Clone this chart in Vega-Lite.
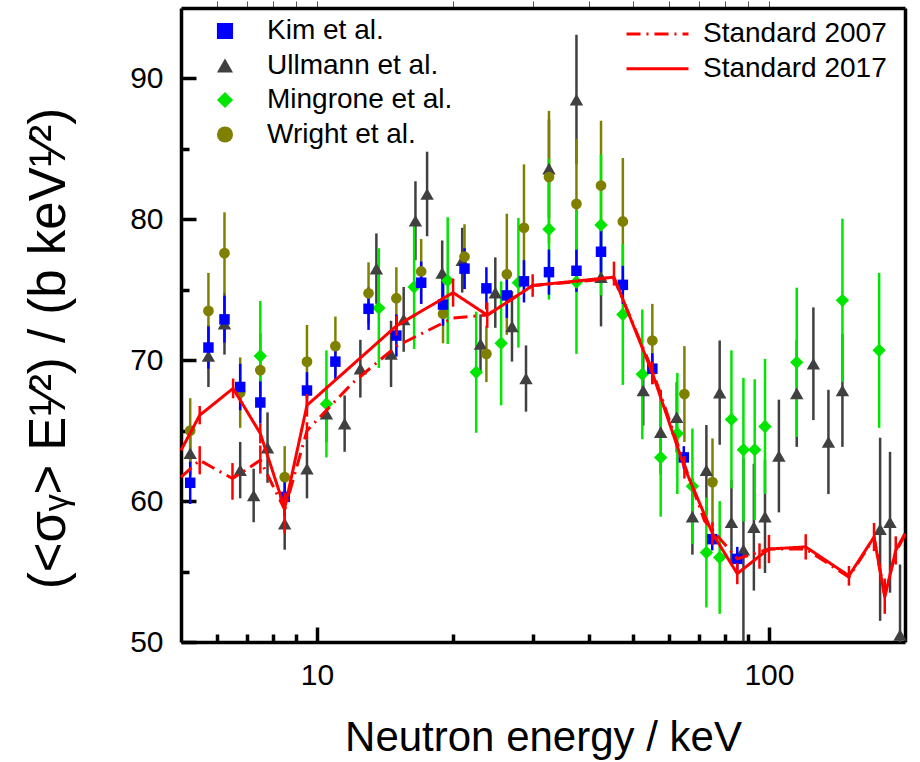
{
"$schema":"https://vega.github.io/schema/vega-lite/v6.json",
"width":724,"height":634,
"autosize":{"type":"none"},
"padding":{"left":181,"top":8,"right":15,"bottom":120},
"config":{
 "font":"Liberation Sans",
 "view":{"stroke":null},
 "axis":{"grid":false,"domainColor":"#000000","domainWidth":3.5,"tickColor":"#000000","tickWidth":3.5,"labelColor":"#000000","titleColor":"#000000","titleFontWeight":"normal","labelFont":"Liberation Sans","titleFont":"Liberation Sans"},
 "legend":{"labelFont":"Liberation Sans","labelColor":"#000000","labelFontSize":28,"padding":0,"labelLimit":400}
},
"datasets":{
 "meas":[
  {"s":"Ullmann et al.","E":5.24,"v":63.4,"lo":61.8,"hi":65.0},
  {"s":"Ullmann et al.","E":5.75,"v":70.3,"lo":68.1,"hi":72.5},
  {"s":"Ullmann et al.","E":6.24,"v":72.6,"lo":70.4,"hi":74.8},
  {"s":"Ullmann et al.","E":6.76,"v":62.2,"lo":60.2,"hi":64.2},
  {"s":"Ullmann et al.","E":7.24,"v":60.4,"lo":58.5,"hi":62.3},
  {"s":"Ullmann et al.","E":7.77,"v":63.8,"lo":61.3,"hi":66.3},
  {"s":"Ullmann et al.","E":8.48,"v":58.4,"lo":56.55,"hi":60.25},
  {"s":"Ullmann et al.","E":9.5,"v":62.3,"lo":60.2,"hi":64.4},
  {"s":"Ullmann et al.","E":10.49,"v":66.2,"lo":64.2,"hi":68.2},
  {"s":"Ullmann et al.","E":11.51,"v":65.5,"lo":63.5,"hi":67.5},
  {"s":"Ullmann et al.","E":12.47,"v":69.4,"lo":67.35,"hi":71.45},
  {"s":"Ullmann et al.","E":13.53,"v":76.5,"lo":74.0,"hi":79.0},
  {"s":"Ullmann et al.","E":14.58,"v":70.45,"lo":68.1,"hi":72.8},
  {"s":"Ullmann et al.","E":15.55,"v":72.9,"lo":70.6,"hi":75.2},
  {"s":"Ullmann et al.","E":16.51,"v":79.9,"lo":77.1,"hi":82.7},
  {"s":"Ullmann et al.","E":17.52,"v":81.8,"lo":78.8,"hi":84.8},
  {"s":"Ullmann et al.","E":18.92,"v":76.2,"lo":73.9,"hi":78.5},
  {"s":"Ullmann et al.","E":20.95,"v":77.1,"lo":74.8,"hi":79.4},
  {"s":"Ullmann et al.","E":23.0,"v":71.15,"lo":69.05,"hi":73.25},
  {"s":"Ullmann et al.","E":24.8,"v":74.8,"lo":72.3,"hi":77.3},
  {"s":"Ullmann et al.","E":27.0,"v":72.4,"lo":69.9,"hi":74.9},
  {"s":"Ullmann et al.","E":29.0,"v":68.7,"lo":66.35,"hi":71.05},
  {"s":"Ullmann et al.","E":32.6,"v":83.6,"lo":80.1,"hi":87.1},
  {"s":"Ullmann et al.","E":37.5,"v":88.5,"lo":83.9,"hi":93.1},
  {"s":"Ullmann et al.","E":42.5,"v":75.9,"lo":72.4,"hi":79.4},
  {"s":"Ullmann et al.","E":52.7,"v":67.85,"lo":65.35,"hi":70.35},
  {"s":"Ullmann et al.","E":57.6,"v":64.9,"lo":61.9,"hi":67.9},
  {"s":"Ullmann et al.","E":62.5,"v":65.95,"lo":63.45,"hi":68.45},
  {"s":"Ullmann et al.","E":67.7,"v":58.9,"lo":56.2,"hi":61.6},
  {"s":"Ullmann et al.","E":72.7,"v":62.2,"lo":59.0,"hi":65.4},
  {"s":"Ullmann et al.","E":77.8,"v":67.7,"lo":64.0,"hi":71.4},
  {"s":"Ullmann et al.","E":82.6,"v":58.5,"lo":55.5,"hi":61.5},
  {"s":"Ullmann et al.","E":87.8,"v":56.55,"lo":50.05,"hi":63.05},
  {"s":"Ullmann et al.","E":92.6,"v":58.15,"lo":53.65,"hi":62.65},
  {"s":"Ullmann et al.","E":98.0,"v":58.9,"lo":54.9,"hi":62.9},
  {"s":"Ullmann et al.","E":105.2,"v":63.2,"lo":59.2,"hi":67.2},
  {"s":"Ullmann et al.","E":115.2,"v":67.65,"lo":63.85,"hi":71.45},
  {"s":"Ullmann et al.","E":125.4,"v":69.75,"lo":65.75,"hi":73.75},
  {"s":"Ullmann et al.","E":135.4,"v":64.2,"lo":60.5,"hi":67.9},
  {"s":"Ullmann et al.","E":145.4,"v":67.85,"lo":63.85,"hi":71.85},
  {"s":"Ullmann et al.","E":176.2,"v":58.0,"lo":51.5,"hi":64.5},
  {"s":"Ullmann et al.","E":185.3,"v":58.5,"lo":53.5,"hi":63.5},
  {"s":"Ullmann et al.","E":195.0,"v":50.5,"lo":45.5,"hi":55.5},
  {"s":"Wright et al.","E":5.24,"v":65.0,"lo":62.7,"hi":67.3},
  {"s":"Wright et al.","E":5.75,"v":73.5,"lo":70.8,"hi":76.2},
  {"s":"Wright et al.","E":6.24,"v":77.6,"lo":74.7,"hi":80.5},
  {"s":"Wright et al.","E":6.76,"v":67.7,"lo":65.2,"hi":70.2},
  {"s":"Wright et al.","E":7.49,"v":69.3,"lo":66.7,"hi":71.9},
  {"s":"Wright et al.","E":8.48,"v":61.7,"lo":59.5,"hi":63.9},
  {"s":"Wright et al.","E":9.5,"v":69.9,"lo":67.3,"hi":72.5},
  {"s":"Wright et al.","E":10.98,"v":71.0,"lo":68.9,"hi":73.1},
  {"s":"Wright et al.","E":13.0,"v":74.75,"lo":72.55,"hi":76.95},
  {"s":"Wright et al.","E":14.98,"v":74.4,"lo":72.2,"hi":76.6},
  {"s":"Wright et al.","E":17.0,"v":76.3,"lo":74.0,"hi":78.6},
  {"s":"Wright et al.","E":19.0,"v":73.3,"lo":71.2,"hi":75.4},
  {"s":"Wright et al.","E":21.2,"v":77.35,"lo":75.05,"hi":79.65},
  {"s":"Wright et al.","E":23.7,"v":70.45,"lo":68.45,"hi":72.45},
  {"s":"Wright et al.","E":26.3,"v":76.1,"lo":71.8,"hi":80.4},
  {"s":"Wright et al.","E":28.7,"v":79.4,"lo":74.9,"hi":83.9},
  {"s":"Wright et al.","E":32.6,"v":83.0,"lo":78.3,"hi":87.7},
  {"s":"Wright et al.","E":37.5,"v":81.1,"lo":76.5,"hi":85.7},
  {"s":"Wright et al.","E":42.5,"v":82.4,"lo":77.8,"hi":87.0},
  {"s":"Wright et al.","E":47.5,"v":79.85,"lo":75.35,"hi":84.35},
  {"s":"Wright et al.","E":55.2,"v":71.4,"lo":68.8,"hi":74.0},
  {"s":"Wright et al.","E":65.0,"v":67.6,"lo":64.2,"hi":71.0},
  {"s":"Wright et al.","E":75.0,"v":61.35,"lo":58.25,"hi":64.45},
  {"s":"Mingrone et al.","E":7.49,"v":70.3,"lo":66.4,"hi":74.2},
  {"s":"Mingrone et al.","E":10.49,"v":66.9,"lo":63.1,"hi":70.7},
  {"s":"Mingrone et al.","E":13.7,"v":73.7,"lo":69.45,"hi":77.95},
  {"s":"Mingrone et al.","E":16.4,"v":75.2,"lo":70.8,"hi":79.6},
  {"s":"Mingrone et al.","E":19.46,"v":75.65,"lo":71.15,"hi":80.15},
  {"s":"Mingrone et al.","E":22.5,"v":69.15,"lo":64.85,"hi":73.45},
  {"s":"Mingrone et al.","E":25.55,"v":71.2,"lo":66.8,"hi":75.6},
  {"s":"Mingrone et al.","E":27.9,"v":75.5,"lo":70.9,"hi":80.1},
  {"s":"Mingrone et al.","E":32.6,"v":79.3,"lo":74.3,"hi":84.3},
  {"s":"Mingrone et al.","E":37.5,"v":75.55,"lo":70.45,"hi":80.65},
  {"s":"Mingrone et al.","E":42.5,"v":79.6,"lo":74.6,"hi":84.6},
  {"s":"Mingrone et al.","E":47.5,"v":73.25,"lo":68.25,"hi":78.25},
  {"s":"Mingrone et al.","E":52.45,"v":69.0,"lo":64.4,"hi":73.6},
  {"s":"Mingrone et al.","E":57.6,"v":63.1,"lo":58.9,"hi":67.3},
  {"s":"Mingrone et al.","E":62.7,"v":64.8,"lo":60.5,"hi":69.1},
  {"s":"Mingrone et al.","E":67.7,"v":61.05,"lo":56.95,"hi":65.15},
  {"s":"Mingrone et al.","E":72.7,"v":56.35,"lo":52.45,"hi":60.25},
  {"s":"Mingrone et al.","E":77.8,"v":56.0,"lo":52.0,"hi":60.0},
  {"s":"Mingrone et al.","E":82.6,"v":65.8,"lo":60.9,"hi":70.7},
  {"s":"Mingrone et al.","E":87.8,"v":63.65,"lo":58.55,"hi":68.75},
  {"s":"Mingrone et al.","E":93.0,"v":63.65,"lo":58.65,"hi":68.65},
  {"s":"Mingrone et al.","E":98.0,"v":65.3,"lo":60.5,"hi":70.1},
  {"s":"Mingrone et al.","E":115.2,"v":69.85,"lo":64.55,"hi":75.15},
  {"s":"Mingrone et al.","E":145.4,"v":74.25,"lo":68.45,"hi":80.05},
  {"s":"Mingrone et al.","E":175.3,"v":70.7,"lo":65.2,"hi":76.2},
  {"s":"Kim et al.","E":5.24,"v":61.3,"lo":59.8,"hi":62.8},
  {"s":"Kim et al.","E":5.75,"v":70.9,"lo":69.4,"hi":72.4},
  {"s":"Kim et al.","E":6.24,"v":72.9,"lo":71.25,"hi":74.55},
  {"s":"Kim et al.","E":6.76,"v":68.1,"lo":66.45,"hi":69.75},
  {"s":"Kim et al.","E":7.49,"v":67.0,"lo":65.5,"hi":68.5},
  {"s":"Kim et al.","E":8.48,"v":60.3,"lo":58.95,"hi":61.65},
  {"s":"Kim et al.","E":9.5,"v":67.85,"lo":66.55,"hi":69.15},
  {"s":"Kim et al.","E":10.98,"v":69.9,"lo":68.65,"hi":71.15},
  {"s":"Kim et al.","E":13.0,"v":73.65,"lo":72.15,"hi":75.15},
  {"s":"Kim et al.","E":14.98,"v":71.75,"lo":70.25,"hi":73.25},
  {"s":"Kim et al.","E":17.0,"v":75.5,"lo":74.0,"hi":77.0},
  {"s":"Kim et al.","E":19.0,"v":73.95,"lo":72.45,"hi":75.45},
  {"s":"Kim et al.","E":21.2,"v":76.5,"lo":75.05,"hi":77.95},
  {"s":"Kim et al.","E":23.7,"v":75.1,"lo":73.6,"hi":76.6},
  {"s":"Kim et al.","E":26.3,"v":74.6,"lo":73.0,"hi":76.2},
  {"s":"Kim et al.","E":28.7,"v":75.6,"lo":74.1,"hi":77.1},
  {"s":"Kim et al.","E":32.6,"v":76.25,"lo":74.65,"hi":77.85},
  {"s":"Kim et al.","E":37.5,"v":76.35,"lo":74.85,"hi":77.85},
  {"s":"Kim et al.","E":42.5,"v":77.7,"lo":76.2,"hi":79.2},
  {"s":"Kim et al.","E":47.5,"v":75.35,"lo":74.0,"hi":76.7},
  {"s":"Kim et al.","E":55.2,"v":69.4,"lo":68.3,"hi":70.5},
  {"s":"Kim et al.","E":64.8,"v":63.1,"lo":62.3,"hi":63.9},
  {"s":"Kim et al.","E":74.9,"v":57.3,"lo":56.5,"hi":58.1},
  {"s":"Kim et al.","E":85.1,"v":55.9,"lo":55.05,"hi":56.75}
 ],
 "std":[
  {"std":"Standard 2007","E":5.0,"v":61.7},
  {"std":"Standard 2007","E":5.5,"v":62.9,"lo":61.9,"hi":63.9},
  {"std":"Standard 2007","E":6.5,"v":61.6,"lo":60.1,"hi":62.7},
  {"std":"Standard 2007","E":7.49,"v":62.9,"lo":61.95,"hi":63.95},
  {"std":"Standard 2007","E":8.48,"v":59.4},
  {"std":"Standard 2007","E":9.5,"v":65.0,"lo":64.4,"hi":65.6},
  {"std":"Standard 2007","E":12.0,"v":68.4},
  {"std":"Standard 2007","E":15.0,"v":71.0},
  {"std":"Standard 2007","E":20.0,"v":73.0},
  {"std":"Standard 2007","E":23.8,"v":73.2},
  {"std":"Standard 2007","E":30.0,"v":75.3},
  {"std":"Standard 2007","E":45.4,"v":75.8},
  {"std":"Standard 2007","E":55.2,"v":69.3},
  {"std":"Standard 2007","E":65.0,"v":62.6},
  {"std":"Standard 2007","E":72.0,"v":58.6},
  {"std":"Standard 2007","E":80.0,"v":56.9},
  {"std":"Standard 2007","E":85.1,"v":55.9},
  {"std":"Standard 2007","E":100.0,"v":56.6},
  {"std":"Standard 2007","E":120.6,"v":56.6},
  {"std":"Standard 2007","E":150.3,"v":54.6},
  {"std":"Standard 2007","E":170.8,"v":57.4},
  {"std":"Standard 2007","E":180.4,"v":53.3},
  {"std":"Standard 2007","E":190.8,"v":56.4},
  {"std":"Standard 2007","E":200.0,"v":57.6},
  {"std":"Standard 2017","E":5.0,"v":63.6},
  {"std":"Standard 2017","E":5.5,"v":66.1,"lo":65.45,"hi":66.75},
  {"std":"Standard 2017","E":6.52,"v":68.0,"lo":67.3,"hi":68.7},
  {"std":"Standard 2017","E":7.49,"v":64.8,"lo":64.1,"hi":65.5},
  {"std":"Standard 2017","E":8.48,"v":59.5,"lo":57.7,"hi":60.6},
  {"std":"Standard 2017","E":9.5,"v":66.8,"lo":66.0,"hi":67.6},
  {"std":"Standard 2017","E":15.0,"v":72.45,"lo":71.75,"hi":73.15},
  {"std":"Standard 2017","E":20.0,"v":74.8,"lo":73.8,"hi":75.8},
  {"std":"Standard 2017","E":23.8,"v":73.2,"lo":72.3,"hi":74.1},
  {"std":"Standard 2017","E":30.0,"v":75.3,"lo":74.5,"hi":76.1},
  {"std":"Standard 2017","E":45.4,"v":75.9,"lo":75.3,"hi":77.0},
  {"std":"Standard 2017","E":55.2,"v":69.1,"lo":68.3,"hi":69.9},
  {"std":"Standard 2017","E":65.0,"v":62.4,"lo":61.6,"hi":63.2},
  {"std":"Standard 2017","E":75.0,"v":57.7,"lo":56.9,"hi":58.5},
  {"std":"Standard 2017","E":85.1,"v":54.85,"lo":54.1,"hi":55.6},
  {"std":"Standard 2017","E":95.3,"v":56.1,"lo":55.2,"hi":57.0},
  {"std":"Standard 2017","E":100.0,"v":56.6,"lo":55.6,"hi":57.6},
  {"std":"Standard 2017","E":120.6,"v":56.75,"lo":55.85,"hi":57.65},
  {"std":"Standard 2017","E":150.3,"v":54.7,"lo":54.0,"hi":55.4},
  {"std":"Standard 2017","E":170.8,"v":57.45,"lo":56.45,"hi":58.45},
  {"std":"Standard 2017","E":180.4,"v":53.2,"lo":52.0,"hi":54.5},
  {"std":"Standard 2017","E":190.8,"v":56.5,"lo":55.5,"hi":57.5},
  {"std":"Standard 2017","E":200.0,"v":57.7}
 ]
},
"layer":[
 {
  "data":{"name":"meas"},
  "mark":{"type":"rule","strokeWidth":2.5,"clip":true},
  "encoding":{
   "x":{"field":"E","type":"quantitative","scale":{"type":"log","domain":[5,200],"nice":false},
        "axis":{"orient":"bottom","values":[10,100],"format":"d","tickSize":-15,"labelFontSize":30,"labelPadding":33,"title":"Neutron energy / keV","titleFontSize":42,"titlePadding":27}},
   "y":{"field":"lo","type":"quantitative","scale":{"domain":[50,95],"nice":false,"zero":false},
        "axis":{"orient":"left","values":[50,60,70,80,90],"tickSize":-15,"labelFontSize":30,"labelPadding":33,"title":"(<σᵧ> E¹⁄²) / (b keV¹⁄²)","titleFontSize":51,"titlePadding":54,"titleY":340}},
   "y2":{"field":"hi"},
   "stroke":{"field":"s","type":"nominal","scale":{"domain":["Ullmann et al.","Wright et al.","Mingrone et al.","Kim et al."],"range":["#404040","#808000","#00e600","#0000ff"]},"legend":null}
  }
 },
 {
  "data":{"name":"meas"},
  "mark":{"type":"point","filled":true,"opacity":1},
  "encoding":{
   "x":{"field":"E","type":"quantitative","scale":{"type":"log","domain":[5,200],"nice":false},
        "axis":{"orient":"bottom","values":[6,7,8,9,20,30,40,50,60,70,80,90],"tickSize":-8,"labels":false,"domain":false,"title":null}},
   "y":{"field":"v","type":"quantitative","scale":{"domain":[50,95],"nice":false,"zero":false},
        "axis":{"orient":"left","values":[55,65,75,85],"tickSize":-8,"labels":false,"domain":false,"title":null}},
   "color":{"field":"s","type":"nominal","scale":{"domain":["Kim et al.","Ullmann et al.","Mingrone et al.","Wright et al."],"range":["#0000ff","#404040","#00e600","#808000"]},
            "legend":{"orient":"none","legendX":30,"legendY":9,"title":null,"labelFontSize":28,"labelOffset":28,"rowPadding":6.5,"symbolSize":260,"clipHeight":28}},
   "shape":{"field":"s","type":"nominal","scale":{"domain":["Kim et al.","Ullmann et al.","Mingrone et al.","Wright et al."],"range":["square","triangle-up","diamond","circle"]},
            "legend":{"orient":"none","legendX":30,"legendY":9,"title":null,"labelFontSize":28,"labelOffset":28,"rowPadding":6.5,"symbolSize":260,"clipHeight":28}},
   "size":{"field":"s","type":"nominal","scale":{"type":"ordinal","domain":["Wright et al.","Mingrone et al.","Ullmann et al.","Kim et al."],"range":[115,180,180,110]},"legend":null}
  }
 },
 {
  "data":{"name":"std"},
  "mark":{"type":"line","color":"#ff0000","strokeWidth":3},
  "encoding":{
   "x":{"field":"E","type":"quantitative","scale":{"type":"log","domain":[5,200],"nice":false},
        "axis":{"orient":"top","values":[6,7,8,9,10,20,30,40,50,60,70,80,90,100],"tickSize":7,"tickWidth":1,"tickColor":"#555555","labels":false,"title":null}},
   "y":{"field":"v","type":"quantitative","scale":{"domain":[50,95],"nice":false,"zero":false},
        "axis":{"orient":"right","ticks":false,"labels":false,"title":null}},
   "strokeDash":{"field":"std","type":"nominal","scale":{"domain":["Standard 2007","Standard 2017"],"range":[[14,6,2,6],[1,0]]},
        "legend":{"orient":"none","legendX":444,"legendY":12,"title":null,"labelFontSize":28,"labelOffset":13,"rowPadding":6.7,"clipHeight":28,"symbolType":"stroke","symbolSize":3844,"symbolStrokeWidth":3,"symbolStrokeColor":"#ff0000"}}
  }
 },
 {
  "data":{"name":"std"},
  "transform":[{"filter":"isValid(datum.lo)"}],
  "mark":{"type":"rule","color":"#ff0000","strokeWidth":2.5},
  "encoding":{
   "x":{"field":"E","type":"quantitative","scale":{"type":"log","domain":[5,200],"nice":false},"axis":null},
   "y":{"field":"lo","type":"quantitative","scale":{"domain":[50,95],"nice":false,"zero":false},"axis":null},
   "y2":{"field":"hi"}
  }
 }
],
"resolve":{"axis":{"x":"independent","y":"independent"}}
}
